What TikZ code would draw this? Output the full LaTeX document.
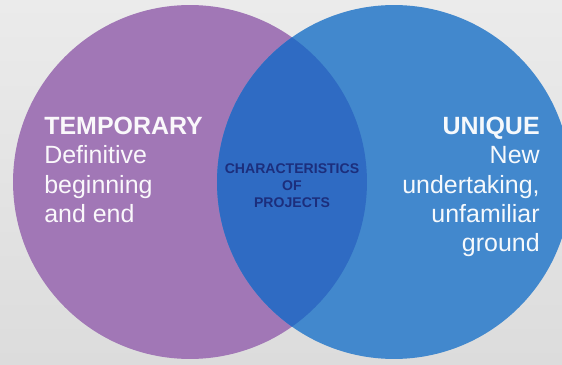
\documentclass[tikz,border=0pt]{standalone}
\usepackage{fontspec}
\setmainfont{Liberation Sans}
\definecolor{bgtop}{HTML}{EBEBEB}
\definecolor{bgbottom}{HTML}{DCDCDC}
\definecolor{temppurple}{HTML}{A177B6}
\definecolor{uniqueblue}{HTML}{4288CD}
\definecolor{overlapblue}{HTML}{2F6BC3}
\definecolor{navytext}{HTML}{1C2E7C}
\tikzset{
  sidetext/.style={inner sep=0pt, font=\fontsize{14.2}{16.6}\selectfont},
  midtext/.style={inner sep=0pt, text=navytext, align=center,
    font=\bfseries\fontsize{8}{9.8}\selectfont},
}
\begin{document}
\begin{tikzpicture}[x=0.02cm,y=-0.02cm]
	\useasboundingbox (0,0) rectangle (562,365);
	\shade[top color=bgtop,bottom color=bgbottom] (0,0) rectangle (562,365);
	% the two sets
	\coordinate (L) at (190,182);
	\coordinate (R) at (394,182);
	\fill[temppurple] (L) circle[radius=3.54cm];
	\fill[uniqueblue] (R) circle[radius=3.54cm];
	\begin{scope}
		\clip (L) circle[radius=3.54cm];
		\fill[overlapblue] (R) circle[radius=3.54cm];
	\end{scope}
	% labels
	\node[sidetext, text=white!95!temppurple, align=left, anchor=north west] (temporary) at (44,117)
		{\textbf{TEMPORARY}\\Definitive\\beginning\\and end};
	\node[sidetext, text=white!95!uniqueblue, align=right, anchor=north east] (unique) at (540,117)
		{\textbf{UNIQUE}\\New\\undertaking,\\unfamiliar\\ground};
	\node[midtext, anchor=north] (characteristics) at (292,163)
		{CHARACTERISTICS\\OF\\PROJECTS};
\end{tikzpicture}
\end{document}
